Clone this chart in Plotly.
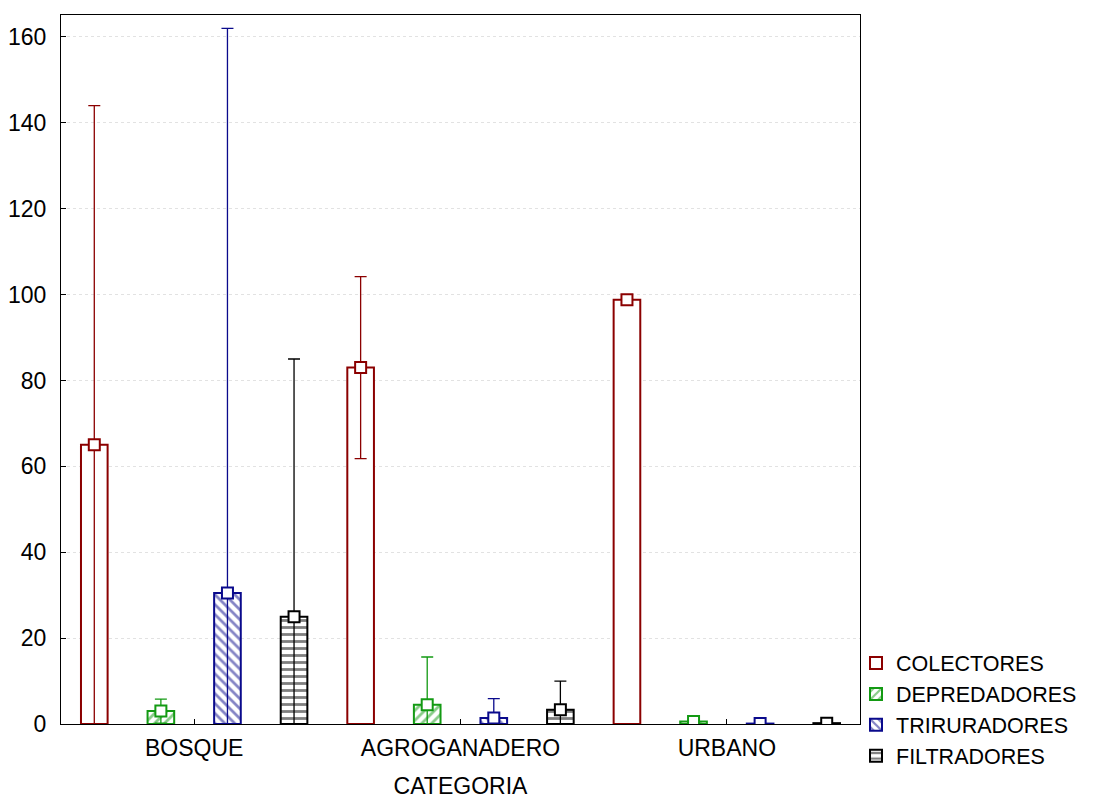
import plotly.graph_objects as go

categories = ["BOSQUE", "AGROGANADERO", "URBANO"]
series = ["COLECTORES", "DEPREDADORES", "TRIRURADORES", "FILTRADORES"]
means = {
    "COLECTORES": [65.0, 83.0, 98.8],
    "DEPREDADORES": [3.0, 4.5, 0.6],
    "TRIRURADORES": [30.5, 1.4, 0.1],
    "FILTRADORES": [25.0, 3.3, 0.2],
}
errors = {
    "COLECTORES": [79.0, 21.2, 0.9],
    "DEPREDADORES": [2.8, 11.1, 0.0],
    "TRIRURADORES": [131.5, 4.5, 0.0],
    "FILTRADORES": [60.0, 6.7, 0.0],
}
colors = {"COLECTORES": "#8b0000", "DEPREDADORES": "#139a13",
          "TRIRURADORES": "#0a0a8c", "FILTRADORES": "#000000"}
patterns = {"COLECTORES": "", "DEPREDADORES": "/", "TRIRURADORES": "\\", "FILTRADORES": "-"}
offsets = [-0.375, -0.125, 0.125, 0.375]

FONT = "Liberation Sans, Arial, sans-serif"
fig = go.Figure()
for s, off in zip(series, offsets):
    xs = [i + off for i in range(len(categories))]
    fig.add_trace(go.Bar(
        x=xs, y=means[s], width=0.1, name=s,
        marker=dict(color="white", line=dict(color=colors[s], width=2),
                    pattern=dict(shape=patterns[s], fgcolor=colors[s], bgcolor="white",
                                 size=7, solidity=0.4, fillmode="overlay")),
    ))
for s, off in zip(series, offsets):
    xs = [i + off for i in range(len(categories))]
    fig.add_trace(go.Scatter(
        x=xs, y=means[s], mode="markers", showlegend=False,
        marker=dict(symbol="square", size=11, color="white",
                    line=dict(color=colors[s], width=2)),
        error_y=dict(type="data", array=errors[s], visible=True,
                     color=colors[s], thickness=1.3, width=6),
        cliponaxis=True,
    ))

fig.update_layout(
    width=1094, height=799,
    margin=dict(l=61, r=234, t=15, b=75, autoexpand=False),
    paper_bgcolor="white", plot_bgcolor="white",
    barmode="overlay",
    font=dict(family=FONT, size=23, color="black"),
    legend=dict(x=0.995, xanchor="left", y=-0.074, yanchor="bottom",
                font=dict(size=21.5), tracegroupgap=0, itemwidth=30,
                bgcolor="rgba(0,0,0,0)"),
)
fig.update_xaxes(
    range=[-0.5, 2.5], tickvals=[0, 1, 2], ticktext=categories,
    ticks="inside", ticklen=5, tickcolor="black",
    tickfont=dict(size=23), ticklabelstandoff=3,
    showline=True, linecolor="black", linewidth=1, mirror=True,
    showgrid=False, zeroline=False,
    title=dict(text="CATEGORIA", standoff=18, font=dict(size=23)),
)
fig.update_yaxes(
    range=[0, 165.1], tickvals=[0, 20, 40, 60, 80, 100, 120, 140, 160],
    ticks="inside", ticklen=5, tickcolor="black",
    tickfont=dict(size=23), ticklabelstandoff=9,
    showline=True, linecolor="black", linewidth=1, mirror=True,
    showgrid=True, gridcolor="#e2e2e2", griddash="dot", gridwidth=1,
    zeroline=False,
)
fig.write_html("out.html")
